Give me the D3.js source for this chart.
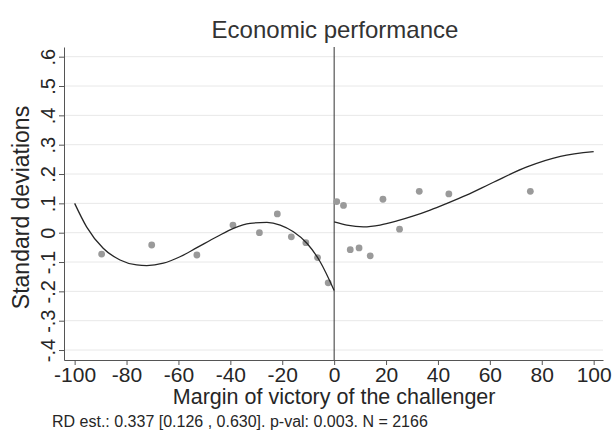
<!DOCTYPE html>
<html>
<head>
<meta charset="utf-8">
<script src="https://cdn.jsdelivr.net/npm/d3@7"></script>
<style>
body { margin: 0; background: #fff; }
svg { font-family: "Liberation Sans", Arial, Helvetica, sans-serif; display: block; }
</style>
</head>
<body>
<div id="main"></div>
<script>
// binned means, left and right of the cutoff
const leftX = [-89.6, -70.3, -52.9, -39.0, -28.8, -21.9, -16.5, -10.9, -6.4, -2.3];
const leftY = [-0.073, -0.042, -0.076, 0.026, 0.000, 0.064, -0.014, -0.034, -0.085, -0.171];
const rightX = [1.0, 3.6, 6.2, 9.6, 13.9, 18.8, 25.2, 32.8, 44.2, 75.6];
const rightY = [0.106, 0.093, -0.058, -0.052, -0.079, 0.114, 0.012, 0.141, 0.132, 0.141];

// fitted curves
const fitLeftX = [-100, -95.4, -89, -82.5, -76.1, -72.2, -65.8, -59.4, -52.9, -45.2, -38.8, -32.4, -25.9, -20.8, -15.7, -10.5, -5.4, 0];
const fitLeftY = [0.100, 0.020, -0.053, -0.093, -0.110, -0.112, -0.104, -0.082, -0.051, -0.014, 0.015, 0.032, 0.035, 0.026, 0.003, -0.036, -0.099, -0.197];
const fitRightX = [0, 4.9, 11.3, 17.7, 24.2, 30.6, 37.0, 43.5, 51.0, 61.4, 74.3, 87.2, 100];
const fitRightY = [0.037, 0.026, 0.020, 0.026, 0.040, 0.057, 0.077, 0.100, 0.128, 0.172, 0.224, 0.260, 0.276];

const xTicks = [-100, -80, -60, -40, -20, 0, 20, 40, 60, 80, 100];
const xTickLabels = ["-100", "-80", "-60", "-40", "-20", "0", "20", "40", "60", "80", "100"];
const yTicks = [-0.4, -0.3, -0.2, -0.1, 0, 0.1, 0.2, 0.3, 0.4, 0.5, 0.6];
const yTickLabels = ["-.4", "-.3", "-.2", "-.1", "0", ".1", ".2", ".3", ".4", ".5", ".6"];

const titleText = "Economic performance";
const xTitle = "Margin of victory of the challenger";
const yTitle = "Standard deviations";
const noteText = "RD est.: 0.337 [0.126 , 0.630]. p-val: 0.003. N = 2166";

const width = 612;
const height = 435;
const margin = { top: 47, right: 9, bottom: 75, left: 64 };

const x = d3.scaleLinear()
    .domain([-104.1, 103.6])
    .range([margin.left, width - margin.right]);

const y = d3.scaleLinear()
    .domain([-0.434, 0.633])
    .range([height - margin.bottom, margin.top]);

const ink = "#262626";

const svg = d3.create("svg")
    .attr("width", width)
    .attr("height", height)
    .attr("viewBox", [0, 0, width, height]);

// grid
svg.append("g")
    .selectAll("line")
    .data(yTicks)
    .join("line")
    .attr("x1", margin.left)
    .attr("x2", width - margin.right)
    .attr("y1", d => y(d))
    .attr("y2", d => y(d))
    .attr("stroke", "#e8e8e8")
    .attr("stroke-width", 1);

// y axis
svg.append("g")
    .attr("transform", `translate(${margin.left},0)`)
    .call(d3.axisLeft(y).tickValues(yTicks).tickSize(5).tickSizeOuter(0)
        .tickFormat((d, i) => yTickLabels[i]))
    .call(g => g.selectAll("path, line").attr("stroke", "#555"))
    .call(g => g.selectAll("text")
        .attr("x", null)
        .attr("dy", null)
        .attr("transform", "translate(-9,0) rotate(-90)")
        .attr("text-anchor", "middle")
        .attr("font-size", 20)
        .attr("fill", ink));

// x axis
svg.append("g")
    .attr("transform", `translate(0,${height - margin.bottom})`)
    .call(d3.axisBottom(x).tickValues(xTicks).tickSize(5).tickPadding(2).tickSizeOuter(0)
        .tickFormat((d, i) => xTickLabels[i]))
    .call(g => g.selectAll("path, line").attr("stroke", "#555"))
    .call(g => g.selectAll("text")
        .attr("font-size", 21)
        .attr("fill", ink));

// cutoff
svg.append("line")
    .attr("x1", x(0))
    .attr("x2", x(0))
    .attr("y1", margin.top)
    .attr("y2", height - margin.bottom)
    .attr("stroke", "#333")
    .attr("stroke-width", 1);

// points
const pts = leftX.map((d, i) => [d, leftY[i]])
    .concat(rightX.map((d, i) => [d, rightY[i]]));

svg.append("g")
    .attr("fill", "#9a9a9a")
    .selectAll("circle")
    .data(pts)
    .join("circle")
    .attr("cx", d => x(d[0]))
    .attr("cy", d => y(d[1]))
    .attr("r", 3.4);

// fits
const line = d3.line()
    .x(d => x(d[0]))
    .y(d => y(d[1]))
    .curve(d3.curveMonotoneX);

[[fitLeftX, fitLeftY], [fitRightX, fitRightY]].forEach(([fx, fy]) => {
    svg.append("path")
        .datum(fx.map((d, i) => [d, fy[i]]))
        .attr("fill", "none")
        .attr("stroke", ink)
        .attr("stroke-width", 1.3)
        .attr("d", line);
});

// titles
svg.append("text")
    .attr("x", 335)
    .attr("y", 38)
    .attr("text-anchor", "middle")
    .attr("font-size", 24)
    .attr("fill", "#333")
    .text(titleText);

svg.append("text")
    .attr("x", x(0))
    .attr("y", 404)
    .attr("text-anchor", "middle")
    .attr("font-size", 21.5)
    .attr("fill", ink)
    .text(xTitle);

svg.append("text")
    .attr("transform", `translate(29,${(margin.top + height - margin.bottom) / 2 + 4}) rotate(-90)`)
    .attr("text-anchor", "middle")
    .attr("font-size", 23)
    .attr("fill", ink)
    .text(yTitle);

svg.append("text")
    .attr("x", 52)
    .attr("y", 427)
    .attr("font-size", 16)
    .attr("fill", ink)
    .text(noteText);

d3.select("#main").append(() => svg.node());
</script>
</body>
</html>
